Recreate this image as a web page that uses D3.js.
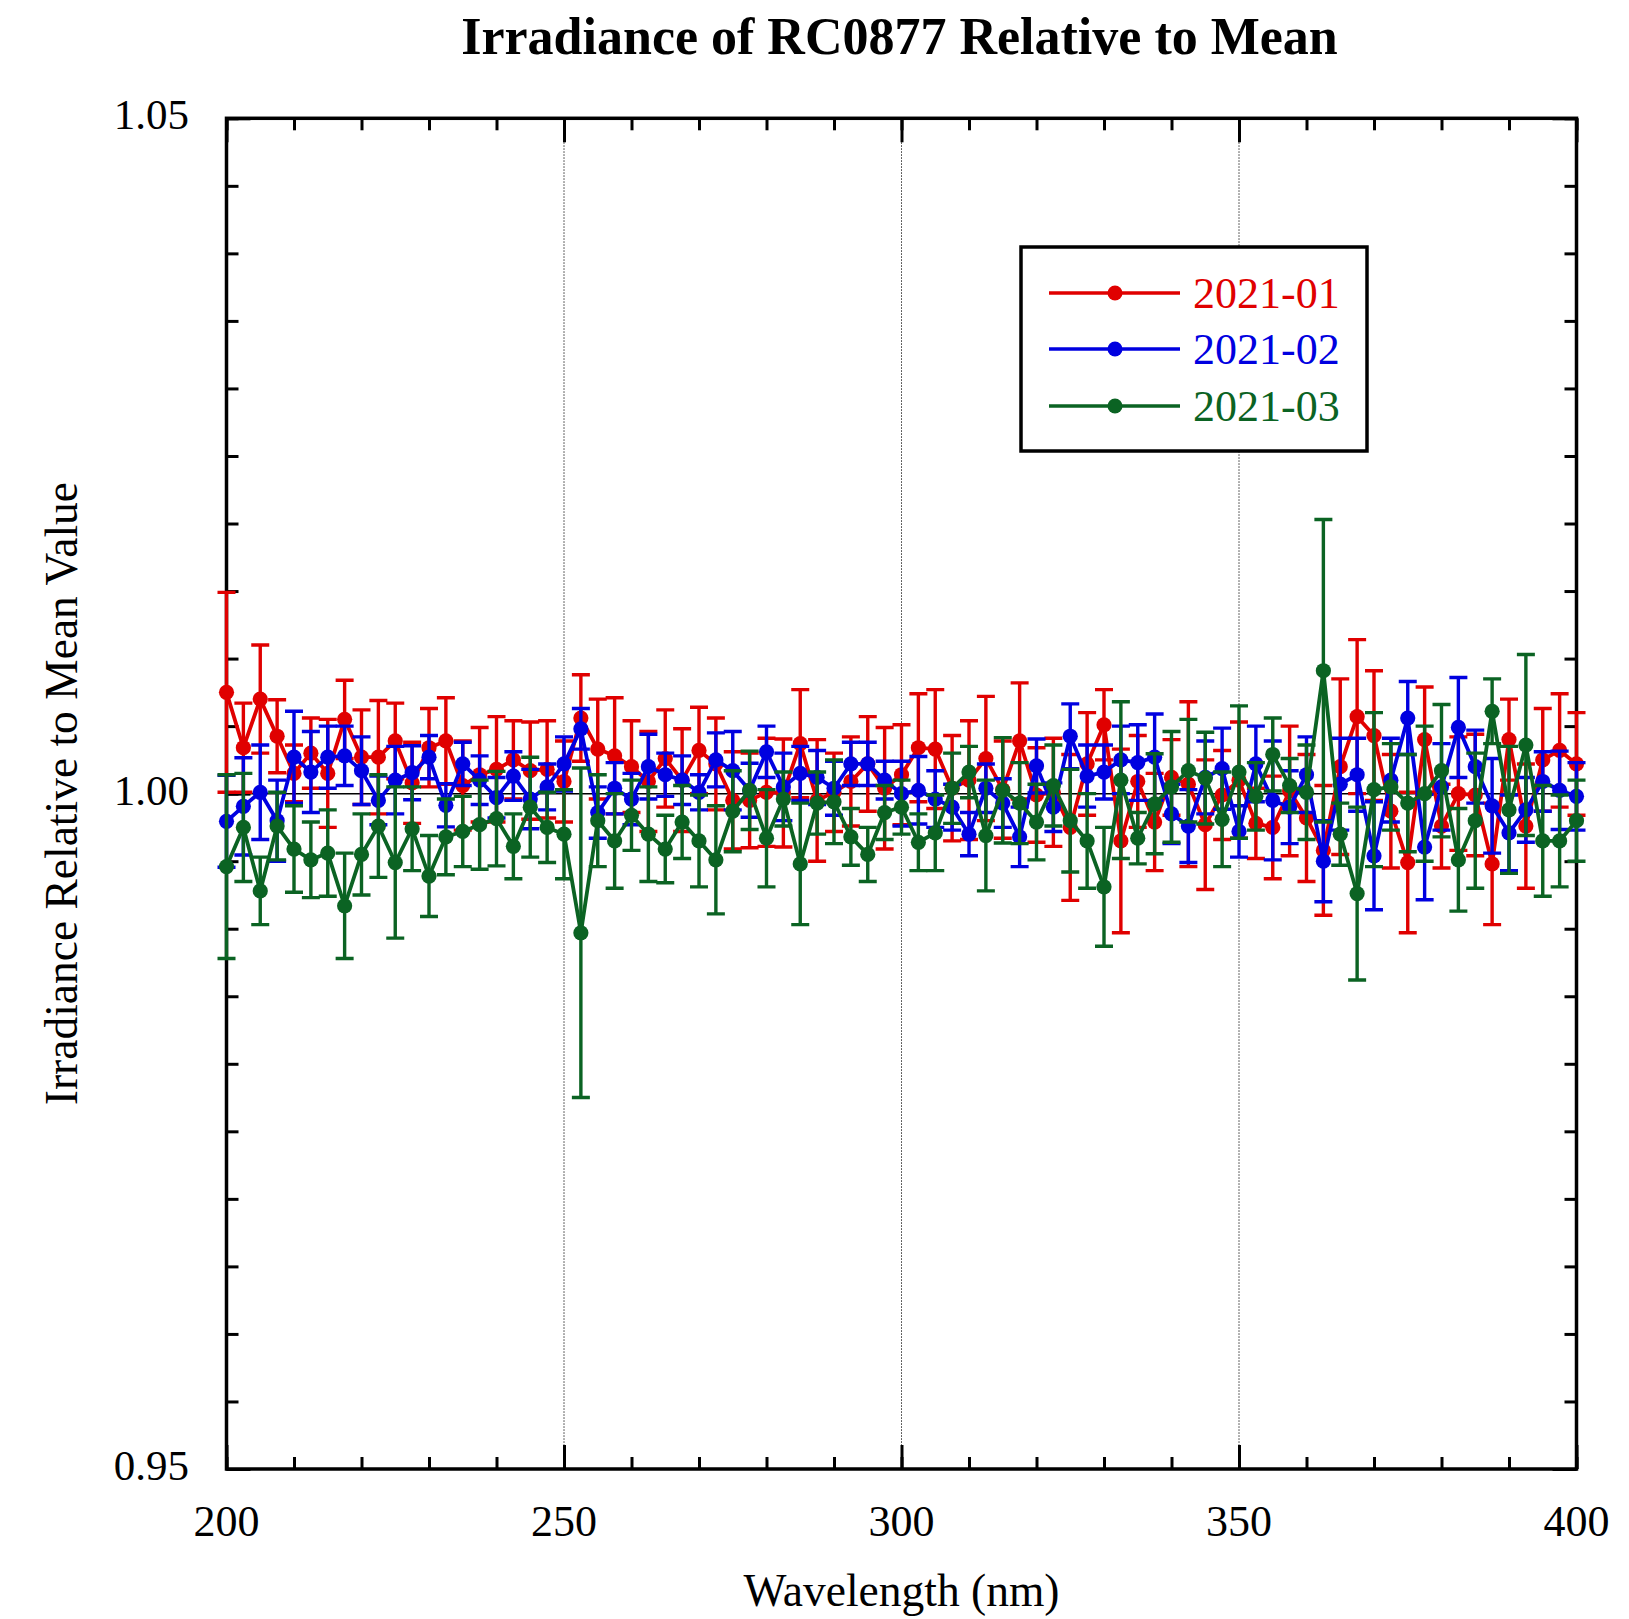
<!DOCTYPE html>
<html>
<head>
<meta charset="utf-8">
<script src="https://cdn.jsdelivr.net/npm/d3@7"></script>
<style>
  html, body { margin: 0; padding: 0; background: #fff; }
  svg { display: block; font-family: "Liberation Serif", "Times New Roman", serif; }
</style>
</head>
<body>
<svg id="chart" width="1629" height="1619"></svg>
<script>
// Wavelength grid: 200–400 nm in 2.5 nm steps
const wavelengthStart = 200;
const wavelengthStep = 2.5;
const pointCount = 81;

const seriesNames = ["2021-01", "2021-02", "2021-03"];
const seriesColors = ["#e00000", "#0000e0", "#0b6323"];

// Deviation from the mean, in units of 0.001 (ratio = 1 + d/1000)
const dev2021_01 = [7.5, 3.4, 7.0, 4.25, 1.5, 3.0, 1.5, 5.5, 2.7, 2.7, 3.9, 0.8, 3.4, 3.9, 0.6, 1.4, 1.8, 2.5, 1.7, 1.8,
  0.9, 5.6, 3.3, 2.8, 2.0, 0.9, 2.6, 1.0, 3.2, 2.2, -0.5, -0.5, 0.1, 0.05, 3.7, -0.5, 0.1, 0.9, 2.2, 0.4,
  1.4, 3.4, 3.3, 0.4, 1.0, 2.6, 0.3, 3.9, -0.1, 0.1, -2.5, 2.2, 5.1, -3.5, 0.9, -2.1, 1.2, 0.7, -2.3, -0.1,
  1.0, -2.2, -2.5, 0.2, -1.8, -4.2, 2.0, 5.7, 4.3, -1.3, -5.1, 4.0, -2.4, 0.0, -0.1, -5.2, 4.0, -2.4, 2.5, 3.2, 2.2];
const err2021_01 = [7.4, 3.3, 4.0, 2.7, 2.1, 2.6, 4.0, 2.9, 3.5, 4.2, 2.8, 3.0, 2.9, 3.2, 3.3, 3.5, 3.9, 2.9, 3.6, 3.6,
  3.0, 3.2, 3.7, 4.3, 3.4, 3.7, 3.6, 3.8, 3.2, 3.4, 3.6, 3.5, 4.0, 4.0, 4.0, 4.5, 2.9, 3.3, 3.5, 4.5,
  3.7, 4.0, 4.4, 3.9, 4.4, 4.6, 3.6, 4.3, 3.5, 4.0, 5.4, 3.8, 2.6, 6.8, 3.4, 3.6, 2.8, 6.1, 4.8, 3.3,
  4.3, 2.6, 3.8, 4.8, 4.7, 4.8, 6.5, 5.7, 4.8, 4.2, 5.2, 3.9, 3.1, 4.2, 4.5, 4.5, 3.0, 4.6, 3.8, 4.2, 3.8];

const dev2021_02 = [-2.05, -0.94, 0.1, -2.0, 2.7, 1.6, 2.7, 2.8, 1.7, -0.5, 1.0, 1.55, 2.7, -0.86, 2.2, 1.0, -0.3, 1.3, -0.4, 0.5,
  2.2, 4.8, -1.4, 0.4, -0.4, 2.0, 1.4, 1.0, 0.1, 2.5, 1.7, 0.25, 3.1, 0.5, 1.5, 1.2, 0.4, 2.2, 2.2, 1.0,
  0.0, 0.25, -0.4, -1.0, -3.0, 0.4, -0.7, -3.2, 2.05, -1.0, 4.25, 1.3, 1.6, 2.5, 2.3, 2.7, -1.5, -2.4, 1.2, 1.85,
  -2.8, 2.2, -0.5, -1.0, 1.4, -5.0, 0.7, 1.4, -4.6, 1.0, 5.6, -3.95, 0.5, 4.9, 2.0, -0.9, -2.9, -1.2, 0.9, 0.25, -0.2];
const err2021_02 = [3.4, 3.6, 3.5, 3.0, 3.4, 3.0, 2.3, 2.2, 2.5, 1.8, 2.5, 2.0, 1.6, 1.6, 1.6, 1.8, 1.5, 1.8, 2.2, 1.7,
  2.0, 1.5, 1.9, 1.9, 1.9, 2.4, 1.6, 1.8, 1.3, 2.0, 2.9, 2.0, 1.9, 2.5, 2.0, 2.0, 2.0, 1.6, 1.6, 1.4,
  2.4, 2.5, 2.1, 1.7, 1.6, 1.8, 1.8, 2.2, 2.0, 1.8, 2.4, 2.3, 2.0, 2.5, 2.8, 3.2, 2.2, 2.7, 2.7, 3.0,
  1.9, 2.8, 4.4, 2.7, 2.8, 3.0, 3.4, 2.7, 4.0, 3.1, 2.7, 3.9, 3.2, 3.7, 2.7, 3.5, 2.8, 2.4, 2.2, 2.9, 2.5];

const dev2021_03 = [-5.4, -2.5, -7.2, -2.4, -4.1, -4.9, -4.4, -8.3, -4.5, -2.4, -5.1, -2.6, -6.1, -3.2, -2.8, -2.3, -1.85, -3.9, -1.0, -2.5,
  -3.0, -10.3, -2.0, -3.5, -1.6, -3.0, -4.1, -2.1, -3.5, -4.9, -1.3, 0.25, -3.3, -0.4, -5.2, -0.7, -0.6, -3.2, -4.5, -1.4,
  -1.0, -3.6, -2.9, 0.4, 1.6, -3.1, 0.25, -0.7, -2.1, 0.6, -2.0, -3.5, -6.9, 1.0, -3.3, -0.75, 0.5, 1.7, 1.15, -1.9,
  1.6, -0.2, 2.9, 0.6, 0.1, 9.1, -3.0, -7.4, 0.3, 0.5, -0.7, 0.0, 1.7, -4.9, -2.0, 6.1, -1.2, 3.6, -3.5, -3.5, -2.0];
const err2021_03 = [6.8, 4.0, 2.5, 2.5, 3.2, 2.8, 3.2, 3.9, 3.0, 3.8, 5.6, 3.1, 3.0, 2.8, 2.6, 3.3, 3.5, 2.4, 3.7, 2.6,
  3.3, 12.2, 3.4, 3.5, 2.6, 3.5, 2.5, 2.7, 3.4, 4.0, 3.0, 2.9, 3.6, 2.0, 4.5, 2.3, 3.1, 2.1, 2.0, 2.0,
  2.0, 2.1, 2.8, 2.6, 1.9, 4.1, 3.9, 3.0, 2.8, 3.0, 3.8, 3.5, 4.4, 5.8, 1.9, 3.7, 4.1, 3.8, 3.4, 3.5,
  4.9, 2.5, 2.7, 2.0, 3.5, 11.2, 2.3, 6.4, 5.7, 3.2, 3.6, 5.0, 4.9, 3.8, 5.0, 2.4, 4.7, 6.7, 4.1, 3.4, 3.0];

const xTickValues = [200, 250, 300, 350, 400];
const yTickValues = [0.95, 1.00, 1.05];
const yTickLabels = ["0.95", "1.00", "1.05"];
const gridWavelengths = [250, 300, 350];

const titleText = "Irradiance of RC0877 Relative to Mean";
const xAxisTitle = "Wavelength (nm)";
const yAxisTitle = "Irradiance Relative to Mean Value";

// ---- build series ----
const wavelengths = d3.range(pointCount).map(i => wavelengthStart + i * wavelengthStep);
const devs = [dev2021_01, dev2021_02, dev2021_03];
const errs = [err2021_01, err2021_02, err2021_03];
const series = seriesNames.map((name, s) => ({
  name,
  color: seriesColors[s],
  points: wavelengths.map((w, i) => ({
    x: w,
    y: 1 + devs[s][i] / 1000,
    e: errs[s][i] / 1000
  }))
}));

// ---- layout ----
const svg = d3.select("#chart");
const L = 226.5, R = 1576.5, T = 118.3, B = 1469;

const x = d3.scaleLinear().domain([200, 400]).range([L, R]);
const y = d3.scaleLinear().domain([0.95, 1.05]).range([B, T]);

// Title
svg.append("text")
  .attr("x", (L + R) / 2 - 2).attr("y", 54)
  .attr("text-anchor", "middle")
  .attr("font-size", 52).attr("font-weight", "bold")
  .text(titleText);

// Dotted vertical grid lines
svg.append("g").selectAll("line").data(gridWavelengths).join("line")
  .attr("x1", d => x(d)).attr("x2", d => x(d))
  .attr("y1", T).attr("y2", B)
  .attr("stroke", "#333").attr("stroke-width", 1)
  .attr("stroke-dasharray", "1.5,1.5");

// Reference line at 1.0
svg.append("line")
  .attr("x1", L).attr("x2", R)
  .attr("y1", y(1)).attr("y2", y(1))
  .attr("stroke", "#000").attr("stroke-width", 1.5);

// Axes with inward ticks on all four sides
const xMinor = d3.range(200, 401, 10);
const yMinor = d3.range(0, 21).map(i => 0.95 + i * 0.005);

function drawXAxis(yPos, dir, withLabels) {
  const axis = (dir > 0 ? d3.axisTop(x) : d3.axisBottom(x));
  const gMinor = svg.append("g").attr("transform", `translate(0,${yPos})`)
    .call(axis.tickValues(xMinor).tickSize(12).tickFormat(""));
  gMinor.select(".domain").remove();
  gMinor.selectAll("line").attr("stroke-width", 3);
  const axisMajor = (dir > 0 ? d3.axisTop(x) : d3.axisBottom(x));
  const gMajor = svg.append("g").attr("transform", `translate(0,${yPos})`)
    .call(axisMajor.tickValues(xTickValues).tickSize(24).tickFormat(d3.format("d")));
  gMajor.select(".domain").remove();
  gMajor.selectAll("line").attr("stroke-width", 3);
  gMajor.selectAll("text").remove();
  if (withLabels) {
    svg.append("g").selectAll("text").data(xTickValues).join("text")
      .attr("x", d => x(d)).attr("y", 1536)
      .attr("text-anchor", "middle")
      .attr("font-size", 44)
      .text(d => d3.format("d")(d));
  }
}
function drawYAxis(xPos, dir, withLabels) {
  const axis = (dir > 0 ? d3.axisRight(y) : d3.axisLeft(y));
  const gMinor = svg.append("g").attr("transform", `translate(${xPos},0)`)
    .call(axis.tickValues(yMinor).tickSize(12).tickFormat(""));
  gMinor.select(".domain").remove();
  gMinor.selectAll("line").attr("stroke-width", 3);
  const axisMajor = (dir > 0 ? d3.axisRight(y) : d3.axisLeft(y));
  const gMajor = svg.append("g").attr("transform", `translate(${xPos},0)`)
    .call(axisMajor.tickValues(yTickValues).tickSize(24).tickFormat(""));
  gMajor.select(".domain").remove();
  gMajor.selectAll("line").attr("stroke-width", 3);
  if (withLabels) {
    svg.append("g").selectAll("text").data(yTickValues).join("text")
      .attr("x", 189).attr("y", d => y(d) + 11)
      .attr("text-anchor", "end")
      .attr("font-size", 43)
      .text((d, i) => yTickLabels[i]);
  }
}
// bottom axis: ticks point up into the plot (axisTop orientation)
drawXAxis(B, 1, true);
// top axis: ticks point down
drawXAxis(T, -1, false);
// left axis: ticks point right
drawYAxis(L, 1, true);
// right axis: ticks point left
drawYAxis(R, -1, false);

// Frame
svg.append("rect")
  .attr("x", L).attr("y", T).attr("width", R - L).attr("height", B - T)
  .attr("fill", "none").attr("stroke", "#000").attr("stroke-width", 3.5);

// Axis titles
svg.append("text")
  .attr("x", (L + R) / 2).attr("y", 1606)
  .attr("text-anchor", "middle").attr("font-size", 45.5)
  .text(xAxisTitle);
svg.append("text")
  .attr("transform", `translate(77,${(T + B) / 2}) rotate(-90)`)
  .attr("text-anchor", "middle").attr("font-size", 45.5)
  .text(yAxisTitle);

// Data series: error bars, connecting line, markers
const capHalf = 9;
const line = d3.line().x(d => x(d.x)).y(d => y(d.y));
const plot = svg.append("g");
series.forEach(s => {
  const g = plot.append("g");
  const eb = g.append("g").attr("stroke", s.color).attr("stroke-width", 3.4).attr("fill", "none");
  eb.selectAll("path").data(s.points).join("path")
    .attr("d", d => {
      const cx = x(d.x), yt = y(d.y + d.e), yb = y(d.y - d.e);
      return `M${cx},${yt}V${yb}M${cx - capHalf},${yt}H${cx + capHalf}M${cx - capHalf},${yb}H${cx + capHalf}`;
    });
  g.append("path").datum(s.points)
    .attr("d", line)
    .attr("fill", "none").attr("stroke", s.color).attr("stroke-width", 3.8)
    .attr("stroke-linejoin", "round");
  g.append("g").selectAll("circle").data(s.points).join("circle")
    .attr("cx", d => x(d.x)).attr("cy", d => y(d.y)).attr("r", 7.6)
    .attr("fill", s.color);
});

// Legend
const lg = svg.append("g");
lg.append("rect")
  .attr("x", 1021).attr("y", 247).attr("width", 346).attr("height", 204)
  .attr("fill", "#fff").attr("stroke", "#000").attr("stroke-width", 3.5);
const rowY = [293, 349, 406];
series.forEach((s, i) => {
  lg.append("line")
    .attr("x1", 1049).attr("x2", 1180).attr("y1", rowY[i]).attr("y2", rowY[i])
    .attr("stroke", s.color).attr("stroke-width", 3.4);
  lg.append("circle").attr("cx", 1115).attr("cy", rowY[i]).attr("r", 7.5).attr("fill", s.color);
  lg.append("text")
    .attr("x", 1193).attr("y", rowY[i] + 15)
    .attr("font-size", 44).attr("fill", s.color)
    .text(s.name);
});
</script>
</body>
</html>
